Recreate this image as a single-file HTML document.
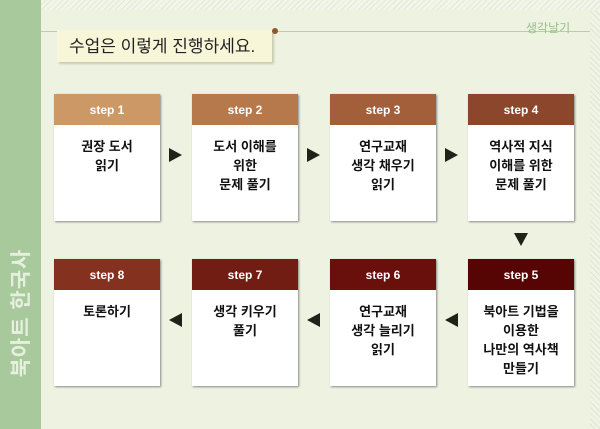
<!DOCTYPE html>
<html><head><meta charset="utf-8"><style>
body{margin:0;width:600px;height:429px;overflow:hidden;background:#eef2e1;position:relative;font-family:"Liberation Sans","Noto Sans CJK KR",sans-serif}
.top{position:absolute;left:41px;top:0;width:559px;height:10px;background:repeating-linear-gradient(135deg,#f3f5ea 0 3px,#e2e8d4 3px 4px)}
.rs{position:absolute;right:0;top:10px;width:10px;height:419px;background:repeating-linear-gradient(45deg,#f0f3e6 0 3px,#e0e6d0 3px 4px)}
.lb{position:absolute;left:0;top:0;width:41px;height:429px;background:#a8c99b}
.vt{position:absolute;left:20px;top:313px;transform:translate(-50%,-50%) rotate(-90deg);color:#e6f0df;font-size:21px;font-weight:bold;white-space:nowrap;letter-spacing:1px}
.hl{position:absolute;left:41px;top:31px;width:549px;height:1px;background:#b8cfa8}
.sg{position:absolute;left:526px;top:19px;font-size:12px;color:#9cbf8c}
.tt{position:absolute;left:57px;top:30px;width:215px;height:32px;background:#f7f6d9;box-shadow:2px 2px 2px #c9cbb0;font-size:17px;color:#222;line-height:34px;padding-left:12px;box-sizing:border-box}
.dot{position:absolute;left:272px;top:28px;width:6px;height:6px;border-radius:50%;background:#8a5a2a}
.b{position:absolute;width:106px;height:127px;background:#fff;box-shadow:1px 1px 2px #888}
.b .h{height:31px;line-height:32px;text-align:center;color:#fff;font-size:12px;font-weight:bold}
.b .t{text-align:center;font-size:13px;font-weight:bold;color:#111;line-height:19px;padding-top:12px}
.ar{position:absolute;width:0;height:0}
.r{border-top:7px solid transparent;border-bottom:7px solid transparent;border-left:13px solid #1e2218}
.l{border-top:7px solid transparent;border-bottom:7px solid transparent;border-right:13px solid #1e2218}
.d{border-left:7px solid transparent;border-right:7px solid transparent;border-top:13px solid #1e2218}
</style></head><body>
<div class="lb"></div><div class="top"></div><div class="rs"></div>
<div class="vt">북아트 한국사</div>
<div class="hl"></div><div class="sg">생각날기</div>
<div class="tt">수업은 이렇게 진행하세요.</div><div class="dot"></div>

<div class="b" style="left:54px;top:94px"><div class="h" style="background:#cc9966">step 1</div><div class="t">권장 도서<br>읽기</div></div>
<div class="b" style="left:192px;top:94px"><div class="h" style="background:#b5794b">step 2</div><div class="t">도서 이해를<br>위한<br>문제 풀기</div></div>
<div class="b" style="left:330px;top:94px"><div class="h" style="background:#a35e3a">step 3</div><div class="t">연구교재<br>생각 채우기<br>읽기</div></div>
<div class="b" style="left:468px;top:94px"><div class="h" style="background:#8c462c">step 4</div><div class="t">역사적 지식<br>이해를 위한<br>문제 풀기</div></div>

<div class="b" style="left:54px;top:259px"><div class="h" style="background:#84321f">step 8</div><div class="t">토론하기</div></div>
<div class="b" style="left:192px;top:259px"><div class="h" style="background:#721d14">step 7</div><div class="t">생각 키우기<br>풀기</div></div>
<div class="b" style="left:330px;top:259px"><div class="h" style="background:#6a100c">step 6</div><div class="t">연구교재<br>생각 늘리기<br>읽기</div></div>
<div class="b" style="left:468px;top:259px"><div class="h" style="background:#560404">step 5</div><div class="t">북아트 기법을<br>이용한<br>나만의 역사책<br>만들기</div></div>

<div class="ar r" style="left:169px;top:148px"></div>
<div class="ar r" style="left:307px;top:148px"></div>
<div class="ar r" style="left:445px;top:148px"></div>
<div class="ar d" style="left:514px;top:233px"></div>
<div class="ar l" style="left:445px;top:313px"></div>
<div class="ar l" style="left:307px;top:313px"></div>
<div class="ar l" style="left:169px;top:313px"></div>
</body></html>
